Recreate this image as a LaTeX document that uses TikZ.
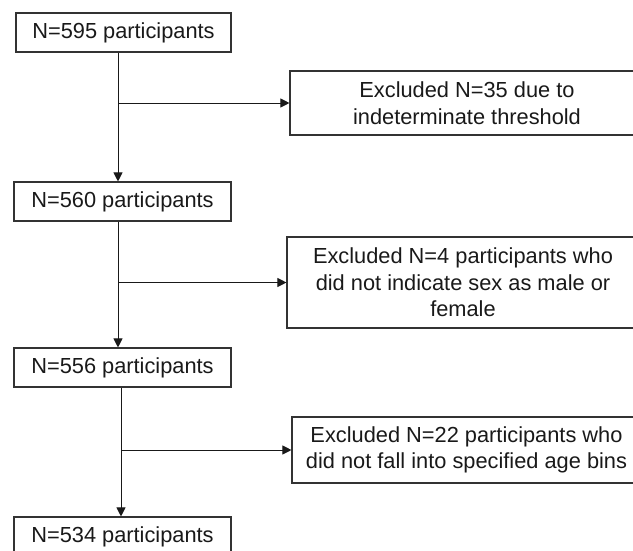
\documentclass[tikz,border=0pt]{standalone}
\usepackage{fontspec}
\setmainfont{Liberation Sans}
\usetikzlibrary{arrows.meta}
\begin{document}
\begin{tikzpicture}[x=1pt,y=-1pt,
  box/.style={draw=black!80, line width=1.1pt, inner sep=0pt, align=center, text=black!90,
    font=\fontsize{21.8}{26.5}\selectfont},
  small/.style={box, minimum width=217pt, minimum height=39pt},
  excl/.style={box},
  arr/.style={-{Triangle[length=9pt,width=9pt]}, line width=1pt, draw=black!90}]
\useasboundingbox (0,0) rectangle (633,550);
\clip (0,0) rectangle (633,550);
\node[small, minimum width=215pt] (b1) at (123.5,32.5) {N=595 participants};
\node[small] (b2) at (122.5,201.5) {N=560 participants};
\node[small] (b3) at (122.5,367.5) {N=556 participants};
\node[small] (b4) at (122.5,536.5) {N=534 participants};
\node[excl, minimum width=354pt, minimum height=64pt] (e1) at (467,103) {Excluded N=35 due to\\indeterminate threshold};
\node[excl, minimum width=352pt, minimum height=91pt] (e2) at (463,282.5) {Excluded N=4 participants who\\did not indicate sex as male or\\female};
\node[excl, minimum width=349pt, minimum height=66pt] (e3) at (466.5,450) {Excluded N=22 participants who\\did not fall into specified age bins};
\coordinate (v1) at (118,0);
\coordinate (v2) at (118,0);
\coordinate (v3) at (121,0);
\draw[arr] (b1.south -| v1) -- (b2.north -| v1);
\draw[arr] (e1.west -| v1) -- (e1.west);
\draw[arr] (b2.south -| v2) -- (b3.north -| v2);
\draw[arr] (e2.west -| v2) -- (e2.west);
\draw[arr] (b3.south -| v3) -- (b4.north -| v3);
\draw[arr] (e3.west -| v3) -- (e3.west);
\end{tikzpicture}
\end{document}
